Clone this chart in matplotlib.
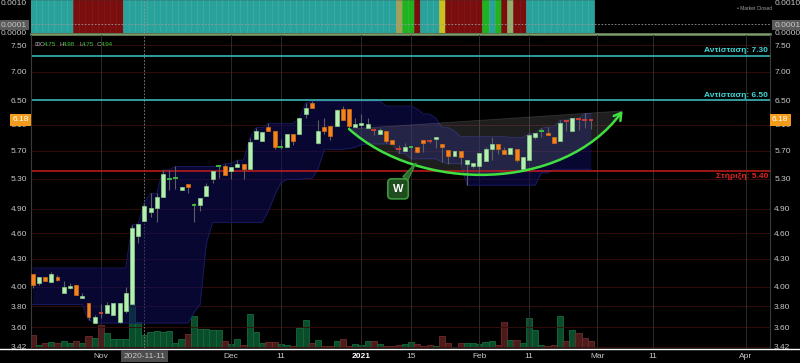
import numpy as np
import matplotlib
matplotlib.use("Agg")
import matplotlib.pyplot as plt
from matplotlib.path import Path
from matplotlib.patches import PathPatch, FancyArrowPatch
from matplotlib.lines import Line2D
from matplotlib.ticker import NullLocator

# daily candles, oldest first
opens = [4.13, 4.04, 4.10, 4.05, 4.10, 3.94, 3.99, 4.02, 3.88, 3.83,
         3.64, 3.745, 3.74, 3.72, 3.65, 3.76, 3.82, 4.57, 4.75, 4.86,
         4.91, 5.05, 5.29, 5.30, 5.14, 5.22, 4.94, 4.95, 5.07, 5.30,
         5.46, 5.47, 5.41, 5.46, 5.51, 5.44, 5.88, 5.84, 6.06, 6.00,
         5.74, 5.75, 5.95, 5.95, 6.27, 6.45, 5.81, 6.06, 6.08, 6.08,
         6.35, 6.35, 6.06, 6.10, 6.04, 6.02, 5.95, 6.00, 5.86, 5.73,
         5.70, 5.74, 5.75, 5.86, 5.85, 5.88, 5.80, 5.71, 5.62, 5.69,
         5.50, 5.47, 5.47, 5.55, 5.73, 5.80, 5.71, 5.65, 5.73, 5.43,
         5.56, 5.91, 5.99, 5.96, 5.91, 5.85, 6.16, 6.00, 6.20, 6.18, 6.19]
highs = [4.13, 4.10, 4.10, 4.16, 4.12, 4.06, 4.04, 4.02, 3.94, 3.83,
         3.72, 3.82, 3.84, 3.83, 3.83, 4.00, 4.70, 4.71, 4.98, 5.10,
         5.10, 5.42, 5.42, 5.47, 5.19, 5.22, 4.97, 5.04, 5.24, 5.41,
         5.47, 5.51, 5.46, 5.56, 5.51, 5.89, 6.05, 5.98, 6.12, 6.00,
         5.88, 5.95, 5.95, 6.20, 6.45, 6.48, 6.18, 6.20, 6.08, 6.35,
         6.40, 6.35, 6.20, 6.27, 6.20, 6.04, 6.05, 6.00, 5.86, 5.79,
         5.82, 5.75, 5.75, 5.86, 5.88, 5.91, 5.80, 5.71, 5.69, 5.69,
         5.56, 5.52, 5.66, 5.76, 5.90, 5.80, 5.76, 5.74, 5.73, 5.60,
         5.96, 5.96, 6.04, 6.06, 5.91, 6.17, 6.16, 6.20, 6.20, 6.28, 6.19]
lows = [3.99, 4.02, 4.06, 4.05, 4.06, 3.94, 3.98, 3.92, 3.88, 3.67,
        3.64, 3.69, 3.74, 3.72, 3.64, 3.74, 3.82, 4.48, 4.75, 4.80,
        4.74, 5.05, 5.14, 5.16, 5.14, 5.10, 4.73, 4.87, 5.07, 5.24,
        5.31, 5.35, 5.29, 5.46, 5.30, 5.43, 5.87, 5.84, 6.00, 5.72,
        5.73, 5.75, 5.79, 5.95, 6.21, 6.37, 5.80, 5.95, 5.86, 6.08,
        6.17, 6.05, 6.06, 6.05, 6.04, 5.93, 5.95, 5.82, 5.80, 5.66,
        5.70, 5.58, 5.66, 5.68, 5.82, 5.74, 5.53, 5.51, 5.62, 5.51,
        5.21, 5.45, 5.38, 5.55, 5.56, 5.65, 5.65, 5.65, 5.53, 5.43,
        5.56, 5.88, 5.91, 5.93, 5.82, 5.85, 6.00, 6.00, 6.01, 6.04, 6.03]
closes = [4.02, 4.10, 4.06, 4.13, 4.07, 4.00, 4.01, 3.92, 3.90, 3.70,
          3.70, 3.74, 3.81, 3.83, 3.83, 3.94, 4.66, 4.71, 4.94, 4.91,
          5.05, 5.37, 5.30, 5.31, 5.19, 5.19, 4.95, 5.04, 5.20, 5.41,
          5.47, 5.35, 5.46, 5.51, 5.44, 5.83, 6.00, 5.98, 6.00, 5.75,
          5.75, 5.95, 5.84, 6.20, 6.37, 6.37, 6.00, 6.00, 5.92, 6.34,
          6.17, 6.08, 6.11, 6.13, 6.11, 6.01, 6.02, 5.85, 5.80, 5.72,
          5.75, 5.75, 5.68, 5.82, 5.84, 5.91, 5.75, 5.62, 5.69, 5.60,
          5.56, 5.52, 5.66, 5.73, 5.80, 5.73, 5.65, 5.74, 5.56, 5.60,
          5.93, 5.96, 6.00, 5.93, 5.82, 6.13, 6.15, 6.20, 6.19, 6.17, 6.18]
# volume (thousand shares)
volume = [13, 3, 5, 6.3, 5, 7, 5, 7.3, 5, 11.7,
          9.7, 23, 15, 9, 9, 9, 43, 25.7, 13, 16,
          17, 15.7, 17, 5, 9, 14, 32.3, 19, 19, 18,
          17.7, 7, 4, 9, 3.3, 34, 15.7, 5, 6.3, 5.7,
          4, 3, 2.3, 20, 28, 4.7, 8, 2.3, 2.3, 7.3,
          9, 2.3, 4, 3.3, 6.7, 6.7, 4, 1.7, 2.3, 3,
          3.7, 5.7, 4, 1.7, 3.3, 1.7, 11.7, 5, 1.3, 4.7,
          4.7, 4.7, 4, 5.7, 7, 3, 26, 8, 8, 5,
          30, 17.7, 3.3, 2.3, 3, 31.7, 6.7, 17.7, 15, 10, 7]
# price channel upper / lower
band_hi = [4.20, 4.20, 4.20, 4.20, 4.20, 4.20, 4.20, 4.20, 4.20, 4.20,
           4.20, 4.20, 4.20, 4.20, 4.20, 4.20, 4.70, 4.71, 4.98, 5.10,
           5.10, 5.42, 5.42, 5.47, 5.47, 5.47, 5.47, 5.47, 5.47, 5.47,
           5.47, 5.51, 5.51, 5.56, 5.56, 5.89, 6.05, 6.05, 6.12, 6.12,
           6.12, 6.12, 6.12, 6.20, 6.45, 6.48, 6.48, 6.48, 6.48, 6.48,
           6.48, 6.48, 6.48, 6.48, 6.48, 6.48, 6.48, 6.40, 6.40, 6.40,
           6.40, 6.40, 6.35, 6.27, 6.27, 6.20, 6.05, 6.05, 6.00, 5.91,
           5.91, 5.91, 5.91, 5.91, 5.91, 5.91, 5.91, 5.90, 5.90, 5.90,
           5.96, 5.96, 6.04, 6.06, 6.06, 6.17, 6.17, 6.20, 6.20, 6.28, 6.28]
band_lo = [3.82, 3.82, 3.82, 3.82, 3.82, 3.82, 3.82, 3.82, 3.82, 3.67,
           3.64, 3.64, 3.64, 3.64, 3.64, 3.64, 3.64, 3.64, 3.64, 3.64,
           3.64, 3.64, 3.64, 3.64, 3.64, 3.64, 3.74, 3.82, 4.48, 4.73,
           4.73, 4.73, 4.73, 4.73, 4.73, 4.73, 4.73, 4.73, 4.87, 5.07,
           5.24, 5.29, 5.29, 5.29, 5.30, 5.30, 5.43, 5.72, 5.72, 5.72,
           5.72, 5.73, 5.75, 5.79, 5.80, 5.80, 5.80, 5.80, 5.80, 5.66,
           5.66, 5.58, 5.58, 5.58, 5.58, 5.58, 5.53, 5.51, 5.51, 5.51,
           5.21, 5.21, 5.21, 5.21, 5.21, 5.21, 5.21, 5.21, 5.21, 5.21,
           5.21, 5.21, 5.38, 5.38, 5.43, 5.43, 5.43, 5.43, 5.43, 5.43, 5.43]
# top indicator state per bar: t=teal r=red g=green y=yellow n=tan k=khaki
regime = ("ttttttt" "rrrrrrrr"
          "ttttttttttt" "ttttttttttt" "ttttttttttt" "ttttttttttt"
          "n" "gg" "r" "ttt" "y" "rrrrrr" "g" "t" "g" "r" "k" "rr"
          "ttttttttttt")

tick_pos = [11, 18, 32, 40, 53, 61, 72, 80, 91, 100, 115]
tick_lab = ['Nov', '2020-11-11', 'Dec', '11', '2021', '15', 'Feb', '11', 'Mar', '11', 'Apr']
price_ticks = [3.42, 3.60, 3.80, 4.00, 4.30, 4.60, 4.90, 5.30, 5.70, 6.10, 6.50, 7.00, 7.50]
resistance = [7.30, 6.50]
support = 5.40
last_price = 6.18
cross_bar = 18

# hand drawn rounding-bottom (cup) curve: start, two control points, end
cup_x = [51.0, 62.4, 85.4, 95.1]
cup_y = [6.03, 5.11, 5.11, 6.32]

plt.rcParams['font.family'] = ['Liberation Sans', 'DejaVu Sans']

n = len(opens)
idx = np.arange(n)
o = np.array(opens); h = np.array(highs); l = np.array(lows); c = np.array(closes)
up = c >= o
doji = np.abs(c - o) < 0.015

W, H = 800, 363
def px(x0, y0, x1, y1):
	return [x0 / W, 1 - y1 / H, (x1 - x0) / W, (y1 - y0) / H]

fig = plt.figure(figsize=(8, 3.63), dpi=100, facecolor='black')
ax = fig.add_axes(px(31, 35, 770, 348))
vax = ax.twinx()
top = fig.add_axes(px(31, 0, 770, 33))

xlim = (-0.27, 118.86)

# ---- volume (behind) ----
ax.set_zorder(2)
vax.set_zorder(1)
ax.patch.set_visible(False)
vax.patch.set_visible(False)
vcol = np.where(up, '#0a4d2b', '#4e1b1b')
vedge = np.where(up, '#17693d', '#6e2c2c')
vax.bar(idx, volume, width=1.0, color=vcol, edgecolor=vedge, linewidth=0.6)
vax.set_ylim(0, 313)
vax.set_yticks([])
vax.tick_params(right=False, labelright=False)
for s in vax.spines.values():
	s.set_visible(False)

# ---- main price panel ----
ax.set_yscale('log')
ax.set_ylim(3.411, 7.70)
ax.set_xlim(*xlim)
ax.set_yticks(price_ticks, ['%.2f' % v for v in price_ticks])
ax.yaxis.set_minor_locator(NullLocator())
ax.set_xticks(tick_pos, tick_lab)
ax.tick_params(axis='y', which='both', length=0, pad=3, labelsize=6, labelcolor='#c8c8c8',
               left=False, right=False, labelleft=True, labelright=True)
ax.tick_params(axis='x', length=0, pad=3.5, labelsize=6, labelcolor='#c8c8c8')
for s in ax.spines.values():
	s.set_visible(False)
for side in ['left', 'right']:
	ax.spines[side].set_visible(True)
	ax.spines[side].set_color('#3a3a3a')
	ax.spines[side].set_linewidth(0.8)

for v in price_ticks:
	ax.axhline(v, color='#3b0d0d', lw=0.6, zorder=0)
for t in tick_pos:
	if t != cross_bar:
		ax.axvline(t, color='#2b2b2b', lw=0.7, zorder=0)
ax.axvline(cross_bar, color='#8a8a8a', lw=0.6, ls=(0, (2, 2)), zorder=0.5)

for lbl in ax.get_xticklabels():
	if lbl.get_text() == '2021':
		lbl.set_fontweight('bold')
		lbl.set_color('white')
	if lbl.get_text() == '2020-11-11':
		lbl.set_bbox(dict(facecolor='#4d4d4d', edgecolor='none', pad=1.8))

# price channel
ax.fill_between(idx, band_lo, band_hi, color='#0e0e5c', alpha=0.55, lw=0, zorder=1)
ax.plot(idx, band_hi, color='#1c1c6a', lw=0.6, zorder=1.1)
ax.plot(idx, band_lo, color='#1c1c6a', lw=0.6, zorder=1.1)

# support / resistance
for r in resistance:
	ax.axhline(r, color='#3cc4c4', lw=1.1, zorder=2)
	ax.annotate('Αντίσταση: %.2f' % r, xy=(1, r), xycoords=('axes fraction', 'data'),
	            xytext=(-1.5, 1), textcoords='offset points', ha='right', va='bottom',
	            color='#3fd6d6', fontsize=6, fontweight='bold', zorder=9)
ax.axhline(support, color='#c81c1c', lw=1.1, zorder=2)
ax.annotate('Στήριξη: %.2f' % support, xy=(1, support), xycoords=('axes fraction', 'data'),
            xytext=(-1.5, -1.5), textcoords='offset points', ha='right', va='top',
            color='#e02424', fontsize=6, fontweight='bold', zorder=9)

# cup shading and curve
verts = list(zip(cup_x, cup_y))
wedge = PathPatch(Path(verts + [verts[0]], [Path.MOVETO, Path.CURVE4, Path.CURVE4, Path.CURVE4, Path.CLOSEPOLY]),
                  facecolor='#9a9a9a', alpha=0.2, edgecolor='#b0b0b0', lw=0.6, zorder=1.5)
ax.add_patch(wedge)

# candles
ax.vlines(idx, l, h, color='#5e5e5e', lw=0.8, zorder=3)
body = ~doji
bcol = np.where(up, '#b6eeb0', '#f3831d')
becol = np.where(up, '#86cf86', '#d86c10')
ax.bar(idx[body], np.abs(c - o)[body], bottom=np.minimum(o, c)[body], width=0.64,
       color=bcol[body], edgecolor=becol[body], linewidth=0.5, zorder=4)
dcol = np.where(up, '#38c838', '#d8402c')
ax.hlines(c[doji], idx[doji] - 0.38, idx[doji] + 0.38, colors=dcol[doji], lw=1.3, zorder=4)

arc = FancyArrowPatch(path=Path(verts, [Path.MOVETO, Path.CURVE4, Path.CURVE4, Path.CURVE4]),
                      arrowstyle='->,head_length=5,head_width=3', mutation_scale=1,
                      color='#3fe03f', lw=1.8, zorder=6, transform=ax.transData)
ax.add_patch(arc)

ax.annotate('W', xy=(61.8, 5.52), xytext=(58.9, 5.16), ha='center', va='center',
            color='white', fontsize=8, fontweight='bold', zorder=8,
            bbox=dict(boxstyle='round,pad=0.45,rounding_size=0.35', fc='#1f4d1f', ec='#3c9a3c', lw=1.2),
            arrowprops=dict(arrowstyle='wedge,tail_width=0.55,shrink_factor=0.5',
                            fc='#2d6a2d', ec='#3c9a3c', lw=0.8, shrinkA=0, shrinkB=0))

# last price tags
for side, x, dx, ha in [('r', 1, 1.5, 'left'), ('l', 0, -1.5, 'right')]:
	ax.annotate('%.2f' % last_price, xy=(x, last_price), xycoords=('axes fraction', 'data'),
	            xytext=(dx, 0), textcoords='offset points', ha=ha, va='center', color='white',
	            fontsize=6, zorder=10, annotation_clip=False,
	            bbox=dict(boxstyle='square,pad=0.3', fc='#f39c1c', ec='none'))

# ---- top indicator panel ----
pal = {'t': '#2aa29c', 'r': '#7a0d0d', 'g': '#1fb31f', 'y': '#c9c11f', 'n': '#a3a05c', 'k': '#93ad6e'}
edge = {'t': '#45b9b2', 'r': '#8a2020', 'g': '#40c040', 'y': '#d6d040', 'n': '#b0ae70', 'k': '#a0ba80'}
top.bar(idx, 1.0, width=1.0, color=[pal[k] for k in regime],
        edgecolor=[edge[k] for k in regime], linewidth=0.4)
top.set_xlim(*xlim)
top.set_ylim(0, 1)
top.set_facecolor('black')
top.set_xticks([])
top.set_yticks([0.03, 0.27, 0.91], ['0.0000', '0.0001', '0.0010'])
top.tick_params(axis='y', length=0, pad=3, labelsize=6, labelcolor='#c8c8c8',
                left=False, right=False, labelleft=True, labelright=True)
tk = top.yaxis.get_major_ticks()[1]
for lab in (tk.label1, tk.label2):
	lab.set_bbox(dict(facecolor='#5a5a5a', edgecolor='none', pad=1.2))
top.axhline(0.27, color='#9a9a9a', lw=0.6, ls=(0, (2, 2)))
top.axvline(cross_bar, color='#9a9a9a', lw=0.6, ls=(0, (2, 2)))
for s in top.spines.values():
	s.set_visible(False)
fig.text(737 / W, 1 - 8 / H, '\u2022 Market Closed', fontsize=3.5, color='#a0a0a0', va='center')

# separators
fig.add_artist(Line2D([31 / W, 770 / W], [1 - 33.8 / H] * 2, color='#7d9b6d', lw=1.8))
fig.add_artist(Line2D([0, 1], [1 - 349.3 / H] * 2, color='white', lw=1.0))

# OHLC readout of the hovered bar
parts = [('\u229e', 34, '#9a9a9a'), ('O', 40, '#b0b0b0'), ('%.2f' % opens[cross_bar], 43.5, '#3ec83e'),
         ('H', 59, '#b0b0b0'), ('%.2f' % highs[cross_bar], 62.5, '#3ec83e'),
         ('L', 79, '#b0b0b0'), ('%.2f' % lows[cross_bar], 82, '#3ec83e'),
         ('C', 97, '#b0b0b0'), ('%.2f' % closes[cross_bar], 101, '#3ec83e')]
for txt, x, col in parts:
	fig.text(x / W, 1 - 44 / H, txt, fontsize=4.5, color=col, va='center',
	         family=['DejaVu Sans'] if txt == '\u229e' else None)

plt.savefig('out.png', dpi=100, facecolor='black')
